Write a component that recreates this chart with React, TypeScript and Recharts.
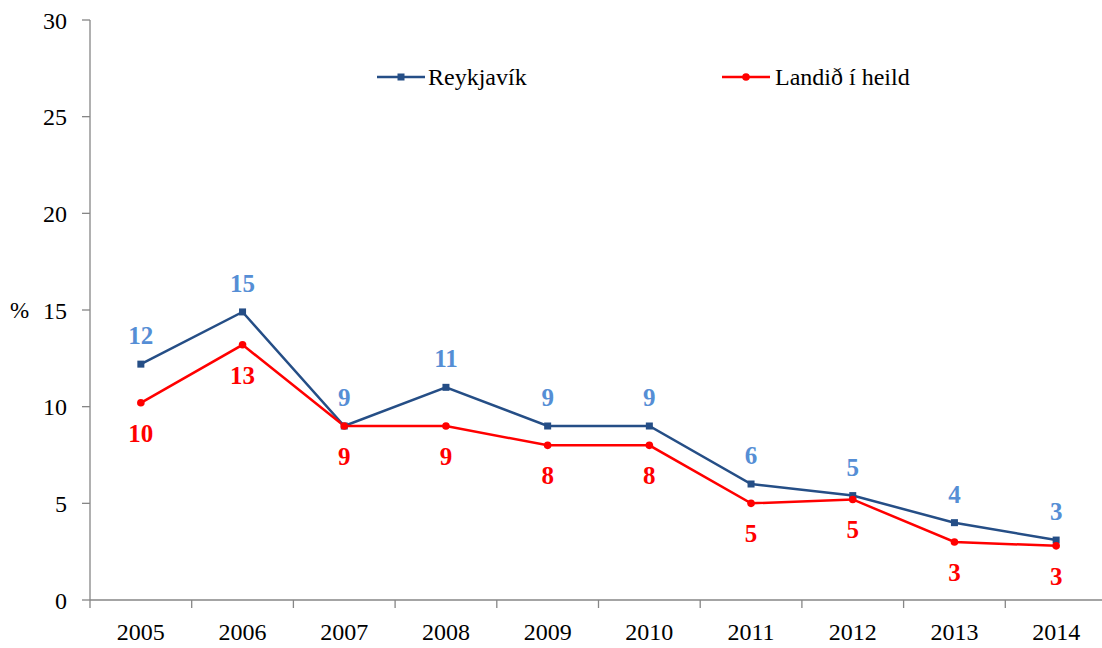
import React from "react";
import {
  LineChart,
  Line,
  XAxis,
  YAxis,
  Legend,
  LabelList,
} from "recharts";

const years = ["2005", "2006", "2007", "2008", "2009", "2010", "2011", "2012", "2013", "2014"];
const reykjavik = [12.2, 14.9, 9.0, 11.0, 9.0, 9.0, 6.0, 5.4, 4.0, 3.1];
const landid = [10.2, 13.2, 9.0, 9.0, 8.0, 8.0, 5.0, 5.2, 3.0, 2.8];
const yTicks = [0, 5, 10, 15, 20, 25, 30];

const data = years.map((year, idx) => ({
  idx,
  year,
  reykjavik: reykjavik[idx],
  landid: landid[idx],
}));

// label ticks at the years, tick marks between them
const xTicks = years.flatMap((_, i) => [i - 0.5, i]);

const FONT = '"Liberation Serif", "Times New Roman", serif';
const BLUE = "#254E86";
const LIGHT_BLUE = "#558ED5";
const RED = "#FF0000";
const AXIS = "#868686";

const TICK_SIZE = 8;
const TICK_MARGIN = 16;

const XTick = (props: any) => {
  const { x, y, payload } = props;
  const v = payload.value;
  if (!Number.isInteger(v)) {
    const axisY = y - TICK_SIZE - TICK_MARGIN;
    return <line x1={x} x2={x} y1={axisY} y2={axisY + TICK_SIZE} stroke={AXIS} strokeWidth={1.3} />;
  }
  return (
    <text x={x} y={y} dy="0.68em" textAnchor="middle" fill="#000" fontSize={24} fontFamily={FONT}>
      {years[v]}
    </text>
  );
};

const SquareDot = (props: any) => {
  const { cx, cy, index } = props;
  return <rect key={"s" + index} x={cx - 3.5} y={cy - 3.5} width={7} height={7} fill={BLUE} />;
};

const RoundDot = (props: any) => {
  const { cx, cy, index } = props;
  return <circle key={"c" + index} cx={cx} cy={cy} r={3.8} fill={RED} />;
};

const LegendContent = () => (
  <div style={{ position: "relative", height: 30, fontFamily: FONT, fontSize: 24 }}>
    <div style={{ position: "absolute", left: 377, top: 0, display: "flex", alignItems: "center" }}>
      <svg width={50} height={30}>
        <line x1={0} x2={48} y1={15} y2={15} stroke={BLUE} strokeWidth={2.5} />
        <rect x={20.5} y={11.5} width={7} height={7} fill={BLUE} />
      </svg>
      <span style={{ marginLeft: 1 }}>Reykjavík</span>
    </div>
    <div style={{ position: "absolute", left: 722, top: 0, display: "flex", alignItems: "center" }}>
      <svg width={50} height={30}>
        <line x1={0} x2={48} y1={15} y2={15} stroke={RED} strokeWidth={2.5} />
        <circle cx={24} cy={15} r={3.8} fill={RED} />
      </svg>
      <span style={{ marginLeft: 3 }}>Landið í heild</span>
    </div>
  </div>
);

const round = (v: any) => Math.round(Number(v));

export default function App() {
  return (
    <div
      style={{
        position: "absolute",
        left: 0,
        top: 0,
        width: 1102,
        height: 648,
        overflow: "hidden",
        background: "#fff",
      }}
    >
      <LineChart
        width={1110}
        height={648}
        data={data}
        margin={{ top: 20, right: 3, bottom: 0, left: 0 }}
      >
        <XAxis
          dataKey="idx"
          type="number"
          domain={[-0.5, 9.5]}
          ticks={xTicks}
          interval={0}
          tick={<XTick />}
          tickLine={false}
          tickSize={TICK_SIZE}
          tickMargin={TICK_MARGIN}
          axisLine={{ stroke: AXIS, strokeWidth: 1.3 }}
          height={48}
        />
        <YAxis
          domain={[0, 30]}
          ticks={yTicks}
          interval={0}
          width={90}
          tickSize={TICK_SIZE}
          tickMargin={15}
          tickLine={{ stroke: AXIS, strokeWidth: 1.3 }}
          axisLine={{ stroke: AXIS, strokeWidth: 1.3 }}
          tick={{ fill: "#000", fontSize: 24, fontFamily: FONT }}
          label={{
            value: "%",
            position: "insideLeft",
            offset: 10,
            fill: "#000",
            fontSize: 23,
            fontFamily: FONT,
          }}
        />
        <Legend
          layout="horizontal"
          verticalAlign="middle"
          align="center"
          content={<LegendContent />}
          wrapperStyle={{ top: 62, left: 0, width: 1110 }}
        />
        <Line
          type="linear"
          dataKey="reykjavik"
          name="Reykjavík"
          stroke={BLUE}
          strokeWidth={2.5}
          dot={<SquareDot />}
          activeDot={false}
          isAnimationActive={false}
        >
          <LabelList
            dataKey="reykjavik"
            position="top"
            offset={20}
            formatter={round}
            fill={LIGHT_BLUE}
            fontSize={25}
            fontWeight="bold"
            fontFamily={FONT}
          />
        </Line>
        <Line
          type="linear"
          dataKey="landid"
          name="Landið í heild"
          stroke={RED}
          strokeWidth={2.5}
          dot={<RoundDot />}
          activeDot={false}
          isAnimationActive={false}
        >
          <LabelList
            dataKey="landid"
            position="bottom"
            offset={21}
            formatter={round}
            fill={RED}
            fontSize={25}
            fontWeight="bold"
            fontFamily={FONT}
          />
        </Line>
      </LineChart>
    </div>
  );
}
